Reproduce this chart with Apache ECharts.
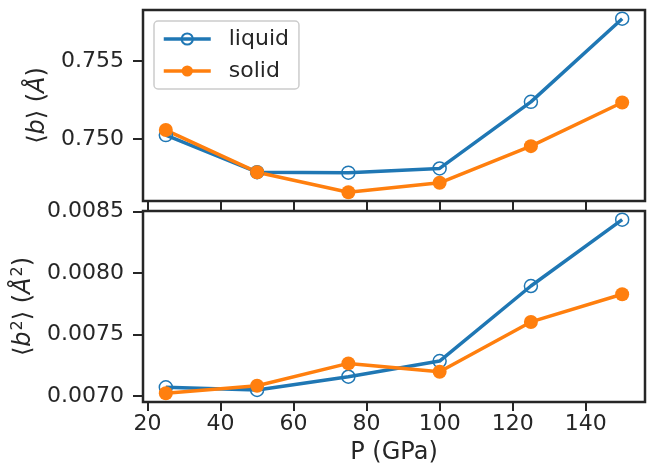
<!DOCTYPE html>
<html>
<head>
<meta charset="utf-8">
<script src="https://cdn.jsdelivr.net/npm/echarts@6/dist/echarts.min.js"></script>
<style>
  html, body { margin: 0; padding: 0; background: #fff; }
  #chart { width: 649px; height: 471px; }
</style>
</head>
<body>
<div id="chart"></div>
<script>
// pressure (GPa)
const pressure = [25, 50, 75, 100, 125, 150]
// <b> (Å)
const bLiquid = [0.75026, 0.74788, 0.74785, 0.74812, 0.75239, 0.75772]
const bSolid = [0.75058, 0.74788, 0.74659, 0.74720, 0.74955, 0.75235]
// <b^2> (Å^2)
const b2Liquid = [0.007071, 0.007049, 0.007157, 0.007284, 0.007894, 0.008433]
const b2Solid = [0.007022, 0.007083, 0.007265, 0.007197, 0.007602, 0.007827]
// tick labels
const xTicks = [20, 40, 60, 80, 100, 120, 140]
const bTicks = [0.750, 0.755]
const b2Ticks = [0.0070, 0.0075, 0.0080, 0.0085]

const dark = '#262626'
const blue = '#1f77b4'
const orange = '#ff7f0e'
const font = 'DejaVu Sans'

// matplotlib-like 5% margins
function range(arrs) {
  const all = [].concat(...arrs)
  const lo = Math.min(...all), hi = Math.max(...all)
  const m = (hi - lo) * 0.05
  return [lo - m, hi + m]
}
const xr = range([pressure])
const br = range([bLiquid, bSolid])
const b2r = range([b2Liquid, b2Solid])

const pairs = ys => ys.map((y, i) => [pressure[i], y])

const richName = {
  n: { fontFamily: font, fontSize: 24, color: dark },
  i: { fontFamily: font, fontSize: 24, color: dark, fontStyle: 'italic' },
  s: { fontFamily: font, fontSize: 16, color: dark, padding: [0, 0, 12, 1] }
}

function xAxis(idx, withLabels) {
  return {
    type: 'value',
    gridIndex: idx,
    min: xr[0],
    max: xr[1],
    splitLine: { show: false },
    axisLine: { show: false },
    axisTick: {
      show: true, length: 9, customValues: xTicks,
      lineStyle: { color: dark, width: 2 }
    },
    axisLabel: {
      show: withLabels, customValues: xTicks, margin: 11,
      fontFamily: font, fontSize: 22, color: dark
    },
    name: withLabels ? 'P (GPa)' : '',
    nameLocation: 'middle',
    nameGap: 39,
    nameTextStyle: { fontFamily: font, fontSize: 24, color: dark }
  }
}

function yAxis(idx, r, ticks, digits, name, gap) {
  return {
    type: 'value',
    gridIndex: idx,
    min: r[0],
    max: r[1],
    splitLine: { show: false },
    axisLine: { show: false },
    axisTick: {
      show: true, length: 10, customValues: ticks,
      lineStyle: { color: dark, width: 2 }
    },
    axisLabel: {
      customValues: ticks, margin: 19,
      fontFamily: font, fontSize: 22, color: dark,
      formatter: v => v.toFixed(digits)
    },
    name: name,
    nameLocation: 'middle',
    nameGap: gap,
    nameRotate: 90,
    nameTextStyle: { rich: richName, fontFamily: font, fontSize: 24, color: dark }
  }
}

const chart = echarts.init(document.getElementById('chart'))

const lineBase = {
  type: 'line',
  symbolSize: 13,
  animation: false
}

chart.setOption({
  animation: false,
  legend: {
    left: 154,
    top: 21,
    orient: 'vertical',
    padding: [6, 10, 6, 8],
    itemGap: 8,
    itemWidth: 47,
    itemHeight: 14,
    borderColor: '#cccccc',
    borderWidth: 1.5,
    borderRadius: 4,
    backgroundColor: 'rgba(255,255,255,0.8)',
    lineStyle: { width: 3.5 },
    textStyle: { fontFamily: font, fontSize: 22, color: dark, lineHeight: 24, padding: [0, 0, 0, 13] },
    data: ['liquid', 'solid']
  },
  grid: [
    { left: 143, top: 10, width: 502, height: 191, show: true, borderColor: dark, borderWidth: 2.5, backgroundColor: 'transparent' },
    { left: 143, top: 211, width: 502, height: 191, show: true, borderColor: dark, borderWidth: 2.5, backgroundColor: 'transparent' }
  ],
  xAxis: [xAxis(0, false), xAxis(1, true)],
  yAxis: [
    yAxis(0, br, bTicks, 3, '{n|⟨}{i|b}{n|⟩ (}{i|Å}{n|)}', 90),
    yAxis(1, b2r, b2Ticks, 4, '{n|⟨}{i|b}{s|2}{n|⟩ (}{i|Å}{s|2}{n|)}', 102)
  ],
  series: [
    Object.assign({}, lineBase, {
      name: 'liquid', xAxisIndex: 0, yAxisIndex: 0, data: pairs(bLiquid),
      symbol: 'circle',
      lineStyle: { color: blue, width: 3.5 },
      itemStyle: { color: 'rgba(255,255,255,0)', borderColor: blue, borderWidth: 1.5 }
    }),
    Object.assign({}, lineBase, {
      name: 'solid', xAxisIndex: 0, yAxisIndex: 0, data: pairs(bSolid),
      symbol: 'circle', symbolSize: 14,
      lineStyle: { color: orange, width: 3.5 },
      itemStyle: { color: orange }
    }),
    Object.assign({}, lineBase, {
      name: 'liquid', xAxisIndex: 1, yAxisIndex: 1, data: pairs(b2Liquid),
      symbol: 'circle',
      lineStyle: { color: blue, width: 3.5 },
      itemStyle: { color: 'rgba(255,255,255,0)', borderColor: blue, borderWidth: 1.5 }
    }),
    Object.assign({}, lineBase, {
      name: 'solid', xAxisIndex: 1, yAxisIndex: 1, data: pairs(b2Solid),
      symbol: 'circle', symbolSize: 14,
      lineStyle: { color: orange, width: 3.5 },
      itemStyle: { color: orange }
    })
  ]
})
</script>
</body>
</html>
